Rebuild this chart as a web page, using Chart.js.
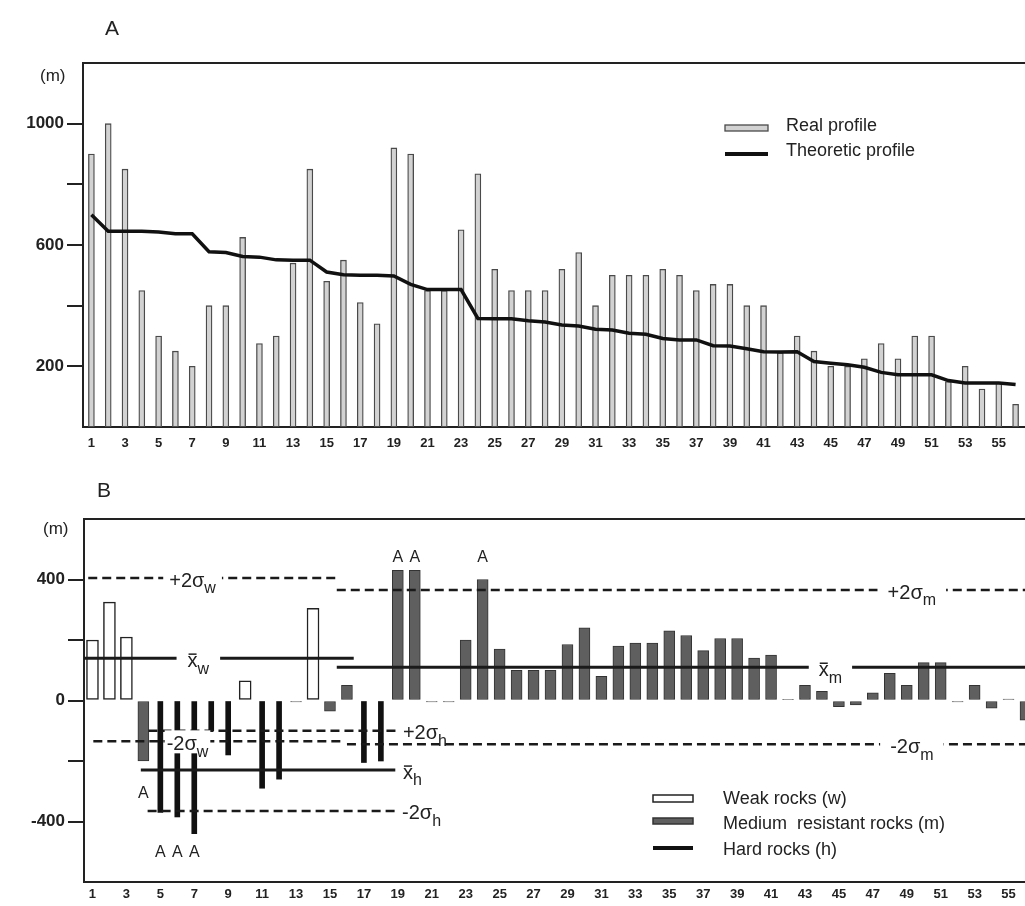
<!DOCTYPE html>
<html>
<head>
<meta charset="utf-8">
<script src="https://cdn.jsdelivr.net/npm/chart.js@4.4.1/dist/chart.umd.min.js"></script>
<style>
  html, body { margin: 0; padding: 0; background: #fff; overflow: hidden; }
  #page { position: relative; width: 1025px; height: 906px; overflow: hidden;
          font-family: "Liberation Sans", Arial, sans-serif; color: #222; }
  canvas { position: absolute; left: 0; }
  #chartA { top: 0; }
  #chartB { top: 450px; }
  .panel { position: absolute; font-size: 21px; line-height: 21px; }
  .unit { position: absolute; font-size: 17px; line-height: 17px; }
</style>
</head>
<body>
<div id="page">
  <canvas id="chartA" width="1025" height="460"></canvas>
  <canvas id="chartB" width="1040" height="456"></canvas>
  <div class="panel" style="left:105px; top:17px;">A</div>
  <div class="unit" style="left:40px; top:67px;">(m)</div>
  <div class="panel" style="left:97px; top:479px;">B</div>
  <div class="unit" style="left:43px; top:520px;">(m)</div>
</div>
<script>
// stations along the profile
const stations = Array.from({ length: 56 }, (_, i) => String(i + 1));
const xTickStations = [1, 3, 5, 7, 9, 11, 13, 15, 17, 19, 21, 23, 25, 27,
  29, 31, 33, 35, 37, 39, 41, 43, 45, 47, 49, 51, 53, 55];

// panel A
const realProfile = [
  900, 1000, 850, 450, 300, 250, 200, 400, 400, 625,
  275, 300, 540, 850, 480, 550, 410, 340, 920, 900,
  450, 450, 650, 835, 520, 450, 450, 450, 520, 575,
  400, 500, 500, 500, 520, 500, 450, 470, 470, 400,
  400, 245, 300, 250, 200, 200, 225, 275, 225, 300,
  300, 150, 200, 125, 145, 75
];
const theoreticProfile = [
  700, 645, 645, 645, 643, 637, 637, 578, 575, 562,
  560, 551, 550, 550, 511, 502, 500, 500, 498, 470,
  453, 453, 453, 358, 357, 357, 350, 346, 336, 333,
  322, 320, 309, 306, 292, 287, 287, 268, 267, 258,
  248, 247, 248, 216, 210, 205, 197, 180, 172, 172,
  172, 153, 145, 145, 145, 140
];
const yTicksA = [200, 400, 600, 800, 1000];
const yLabelsA = [200, 600, 1000];

// panel B : deviation from theoretic profile by rock type
const n = null;
const weakRocks = [
  200, 325, 210, n, n, n, n, n, n, 65,
  n, n, n, 305, n, n, n, n, n, n,
  n, n, n, n, n, n, n, n, n, n,
  n, n, n, n, n, n, n, n, n, n,
  n, n, n, n, n, n, n, n, n, n,
  n, n, n, n, n, n
];
const mediumRocks = [
  n, n, n, -200, n, n, n, n, n, n,
  n, n, -5, n, -35, 50, n, n, 430, 430,
  -5, -5, 200, 400, 170, 100, 100, 100, 185, 240,
  80, 180, 190, 190, 230, 215, 165, 205, 205, 140,
  150, 3, 50, 30, -20, -15, 25, 90, 50, 125,
  125, -5, 50, -25, 5, -65
];
const hardRocks = [
  n, n, n, n, -370, -385, -440, -100, -180, n,
  -290, -260, n, n, n, n, -205, -200, n, n,
  n, n, n, n, n, n, n, n, n, n,
  n, n, n, n, n, n, n, n, n, n,
  n, n, n, n, n, n, n, n, n, n,
  n, n, n, n, n, n
];
// +2 sigma, mean, -2 sigma
const weakStats = [405, 140, -135];
const mediumStats = [365, 110, -145];
const hardStats = [-100, -230, -365];
// station range covered by each line
const weakSpans = [[0.75, 15.6], [0.5, 16.4], [1.05, 15.9]];
const mediumSpans = [[15.4, 56.5], [15.4, 56.5], [16.0, 56.5]];
const hardSpans = [[4.3, 19.15], [3.85, 18.85], [4.25, 19.15]];
const outliers = [4, 5, 6, 7, 19, 20, 24];
const yTicksB = [-400, -200, 0, 200, 400];
const yLabelsB = [-400, 0, 400];

const FONT = '"Liberation Sans", Arial, sans-serif';
const INK = '#222';

function yAxis(min, max, ticks, labels, width) {
  return {
    min: min, max: max,
    afterBuildTicks: (scale) => { scale.ticks = ticks.map((value) => ({ value })); },
    afterFit: (scale) => { scale.width = width; },
    grid: { drawOnChartArea: false, tickLength: 16, color: INK, lineWidth: 2 },
    border: { color: INK, width: 2 },
    ticks: {
      padding: 3, color: INK, font: { family: FONT, size: 17, weight: 'bold' },
      callback: (v) => (labels.includes(v) ? String(v) : '')
    }
  };
}

function xAxis(padding, height) {
  return {
    type: 'linear', min: 0.5, max: 56.5, offset: false,
    afterBuildTicks: (scale) => { scale.ticks = xTickStations.map((value) => ({ value })); },
    afterFit: (scale) => { scale.height = height; },
    grid: { display: false, drawTicks: false, offset: false },
    border: { color: INK, width: 2 },
    ticks: {
      autoSkip: false, maxRotation: 0, padding: padding, color: INK,
      font: { family: FONT, size: 13, weight: 'bold' },
      callback: (v) => String(v)
    }
  };
}

// station series -> {x, y} points, gaps dropped
function points(values) {
  return values
    .map((v, i) => ({ x: Number(stations[i]), y: v }))
    .filter((p) => p.y !== null);
}

// top edge of the frame
const frameTop = {
  id: 'frameTop',
  afterDraw(chart) {
    const { ctx, chartArea } = chart;
    ctx.save();
    ctx.strokeStyle = INK;
    ctx.lineWidth = 2;
    ctx.beginPath();
    ctx.moveTo(chartArea.left - 1, chartArea.top);
    ctx.lineTo(chart.width, chartArea.top);
    ctx.stroke();
    ctx.restore();
  }
};

function legendText(ctx, text, x, y) {
  ctx.fillStyle = INK;
  ctx.font = '18px ' + FONT;
  ctx.textAlign = 'left';
  ctx.textBaseline = 'middle';
  ctx.fillText(text, x, y);
}

const legendA = {
  id: 'legendA',
  afterDraw(chart) {
    const ctx = chart.ctx;
    const bars = chart.data.datasets[1];
    const line = chart.data.datasets[0];
    ctx.save();
    ctx.fillStyle = bars.backgroundColor;
    ctx.strokeStyle = bars.borderColor;
    ctx.lineWidth = 1.3;
    ctx.fillRect(725, 125, 43, 6);
    ctx.strokeRect(725, 125, 43, 6);
    ctx.strokeStyle = line.borderColor;
    ctx.lineWidth = 4;
    ctx.beginPath();
    ctx.moveTo(725, 154);
    ctx.lineTo(768, 154);
    ctx.stroke();
    legendText(ctx, bars.label, 786, 126);
    legendText(ctx, line.label, 786, 151);
    ctx.restore();
  }
};

new Chart(document.getElementById('chartA'), {
  type: 'bar',
  data: {
    datasets: [
      {
        type: 'line', label: 'Theoretic profile', data: points(theoreticProfile), order: 0,
        borderColor: '#111', borderWidth: 3.5, pointRadius: 0, tension: 0
      },
      {
        label: 'Real profile', data: points(realProfile), order: 1,
        backgroundColor: '#d2d2d2', borderColor: '#4a4a4a', borderWidth: 1.3,
        borderSkipped: false, barThickness: 6
      }
    ]
  },
  options: {
    responsive: false, animation: false,
    layout: { padding: { top: 63, right: 1, left: 0, bottom: 0 } },
    plugins: { legend: { display: false }, tooltip: { enabled: false } },
    scales: {
      x: xAxis(9, 33),
      y: yAxis(0, 1200, yTicksA, yLabelsA, 83)
    }
  },
  plugins: [frameTop, legendA]
});

// ---- panel B ----
const statLabels = [
  { stats: 'w', line: 0, at: 6.9, align: 'center', pad: 6 },
  { stats: 'w', line: 1, at: 7.24, align: 'center', pad: 11 },
  { stats: 'w', line: 2, at: 6.6, align: 'center', pad: 2 },
  { stats: 'h', line: 0, at: 19.3, align: 'left', pad: 6 },
  { stats: 'h', line: 1, at: 19.3, align: 'left', pad: 6 },
  { stats: 'h', line: 2, at: 19.25, align: 'left', pad: 6 },
  { stats: 'm', line: 0, at: 49.3, align: 'center', pad: 10 },
  { stats: 'm', line: 1, at: 44.5, align: 'center', pad: 10 },
  { stats: 'm', line: 2, at: 49.3, align: 'center', pad: 10 }
];
const statValues = { w: weakStats, m: mediumStats, h: hardStats };

function statLines(values, spans) {
  return values.map((v, i) => ({
    type: 'line', order: 0,
    data: [{ x: spans[i][0], y: v }, { x: spans[i][1], y: v }],
    borderColor: '#1a1a1a', borderWidth: i === 1 ? 3 : 2.5,
    borderDash: i === 1 ? [] : [9, 5], pointRadius: 0, fill: false
  }));
}

function drawStatLabel(ctx, line, sub, x, y, align, pad) {
  const main = ['+2σ', 'x', '-2σ'][line];
  ctx.font = '20px ' + FONT;
  const w1 = ctx.measureText(main).width;
  ctx.font = '16px ' + FONT;
  const w2 = ctx.measureText(sub).width;
  const x0 = align === 'left' ? x : x - (w1 + w2) / 2;
  ctx.fillStyle = '#fff';
  ctx.fillRect(x0 - pad, y - 11, w1 + w2 + 2 * pad, 23);
  ctx.fillStyle = INK;
  ctx.textAlign = 'left';
  ctx.textBaseline = 'middle';
  ctx.font = '20px ' + FONT;
  ctx.fillText(main, x0, y + 3);
  ctx.font = '16px ' + FONT;
  ctx.fillText(sub, x0 + w1, y + 11);
  if (line === 1) {
    ctx.strokeStyle = INK;
    ctx.lineWidth = 1.5;
    ctx.beginPath();
    ctx.moveTo(x0 + 1, y - 4);
    ctx.lineTo(x0 + w1 - 1, y - 4);
    ctx.stroke();
  }
}

const annotationsB = {
  id: 'annotationsB',
  afterDatasetsDraw(chart) {
    const { ctx, scales } = chart;
    ctx.save();
    statLabels.forEach((l) => {
      const y = scales.y.getPixelForValue(statValues[l.stats][l.line]);
      drawStatLabel(ctx, l.line, l.stats, scales.x.getPixelForValue(l.at), y, l.align, l.pad);
    });
    // anomalous stations
    ctx.fillStyle = INK;
    ctx.font = '16px ' + FONT;
    ctx.textAlign = 'center';
    ctx.textBaseline = 'middle';
    outliers.forEach((s) => {
      const i = s - 1;
      const v = mediumRocks[i] !== null ? mediumRocks[i] : hardRocks[i];
      let level = 472;
      if (v < 0) level = s === 4 ? -307 : -502;
      ctx.fillText('A', scales.x.getPixelForValue(s), scales.y.getPixelForValue(level));
    });
    ctx.restore();
  },
  afterDraw(chart) {
    const ctx = chart.ctx;
    const ds = chart.data.datasets;
    const weak = ds.find((d) => d.label === 'Weak rocks (w)');
    const med = ds.find((d) => d.label === 'Medium  resistant rocks (m)');
    const hard = ds.find((d) => d.label === 'Hard rocks (h)');
    ctx.save();
    ctx.fillStyle = weak.backgroundColor;
    ctx.strokeStyle = weak.borderColor;
    ctx.lineWidth = 1.5;
    ctx.fillRect(653, 345, 40, 7);
    ctx.strokeRect(653, 345, 40, 7);
    ctx.fillStyle = med.backgroundColor;
    ctx.strokeStyle = med.borderColor;
    ctx.fillRect(653, 368, 40, 6);
    ctx.strokeRect(653, 368, 40, 6);
    ctx.fillStyle = hard.backgroundColor;
    ctx.fillRect(653, 396, 40, 4);
    legendText(ctx, weak.label, 723, 349);
    legendText(ctx, med.label, 723, 374);
    legendText(ctx, hard.label, 723, 400);
    ctx.restore();
  }
};

new Chart(document.getElementById('chartB'), {
  type: 'bar',
  data: {
    datasets: [
      ...statLines(weakStats, weakSpans),
      ...statLines(mediumStats, mediumSpans),
      ...statLines(hardStats, hardSpans),
      {
        label: 'Weak rocks (w)', data: points(weakRocks), order: 1, grouped: false,
        backgroundColor: '#fff', borderColor: '#222', borderWidth: 1.5,
        borderSkipped: false, barThickness: 12
      },
      {
        label: 'Medium  resistant rocks (m)', data: points(mediumRocks), order: 1, grouped: false,
        backgroundColor: '#5f5f5f', borderColor: '#333', borderWidth: 1,
        borderSkipped: false, barThickness: 11
      },
      {
        label: 'Hard rocks (h)', data: points(hardRocks), order: 1, grouped: false,
        backgroundColor: '#111', borderWidth: 0, barThickness: 5
      }
    ]
  },
  options: {
    responsive: false, animation: false,
    layout: { padding: { top: 69, right: 6, left: 0, bottom: 0 } },
    plugins: { legend: { display: false }, tooltip: { enabled: false } },
    scales: {
      x: xAxis(5, 24),
      y: yAxis(-600, 600, yTicksB, yLabelsB, 84)
    }
  },
  plugins: [frameTop, annotationsB]
});
</script>
</body>
</html>
